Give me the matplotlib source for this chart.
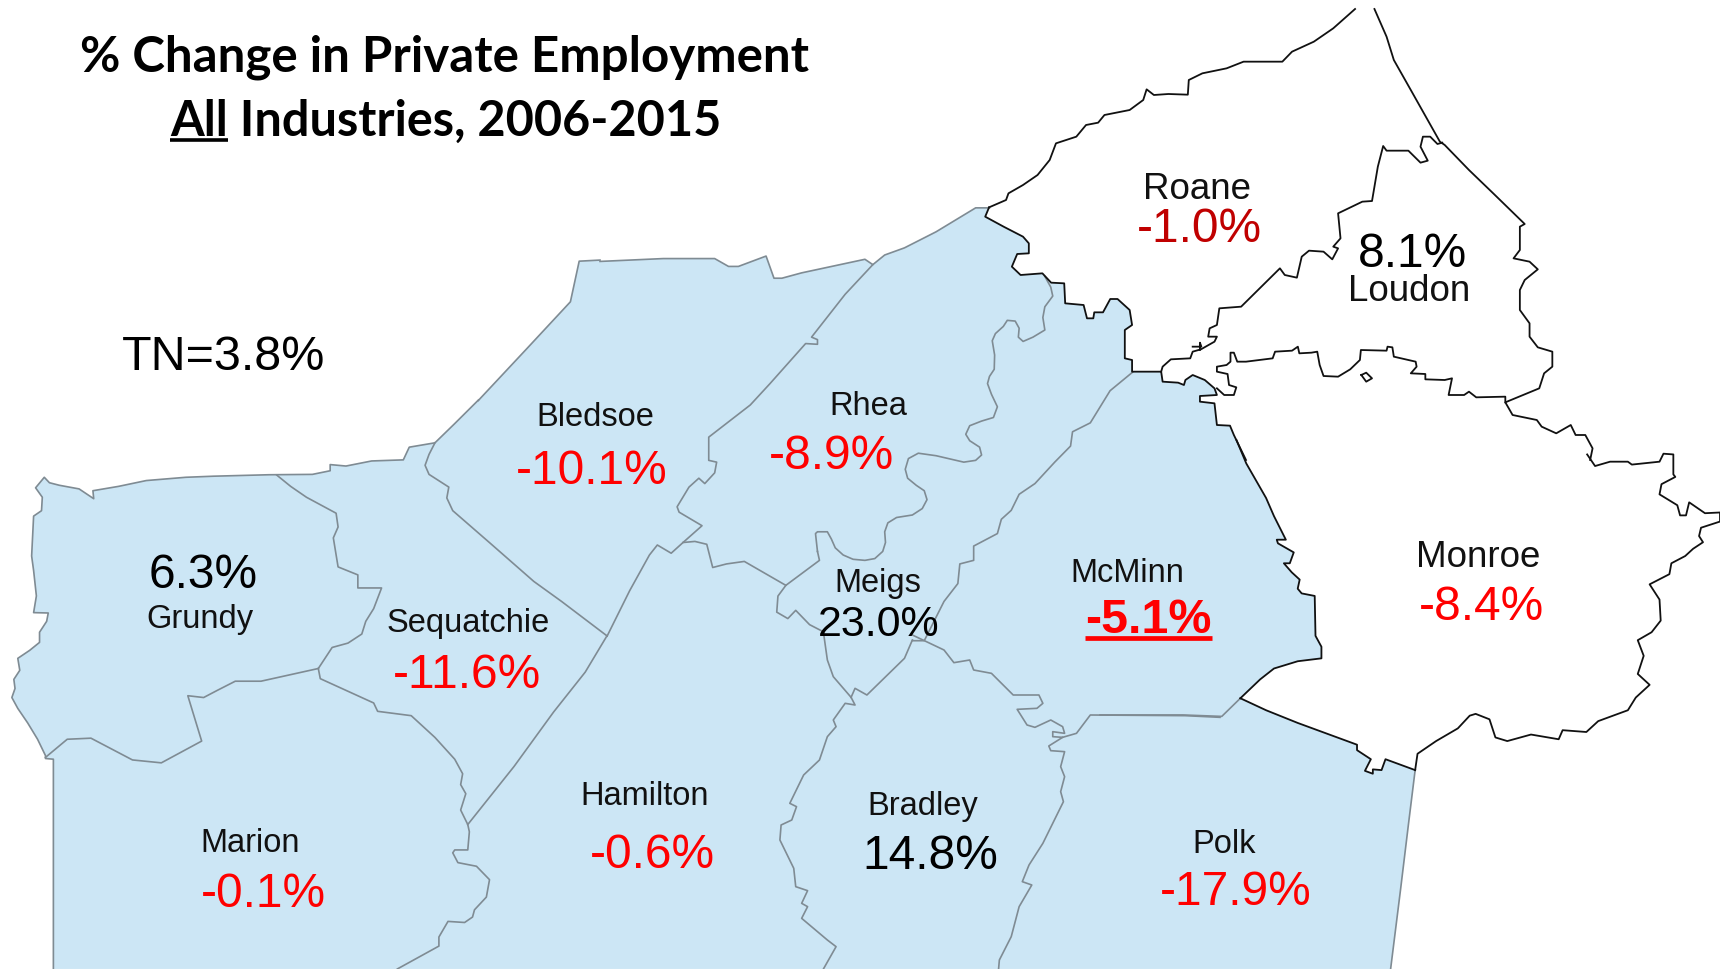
import matplotlib
matplotlib.use('Agg')
import matplotlib.pyplot as plt
from matplotlib.patches import Polygon

# scale of each crop the outlines were read from: left, top, x factor, y factor
crops = {
    'main': (0, 0, 1568 / 1720, 883 / 969),
    'sw': (0, 400, 2.529, 2.756),
    'mid': (600, 180, 2.529, 2.8),
    'ne': (960, 0, 2.063, 3.0),
    'se': (1100, 400, 2.529, 2.756),
    'south': (600, 620, 2.529, 3.0),
}


def px(crop, pts):
    left, top, kx, ky = crops[crop]
    return [(left + x / kx, top + y / ky) for x, y in pts]


# outer edge of the shaded counties
west_edge = [(135, 1568), (135, 990), (115, 988), (115, 980), (95, 935), (70, 890), (45, 850), (30, 820), (38, 795),
             (35, 770), (50, 745), (45, 712), (75, 690), (100, 668), (100, 640), (118, 610), (122, 587), (85, 586),
             (92, 540), (85, 470), (80, 430), (85, 320), (105, 305), (107, 268), (90, 242), (112, 213), (125, 228),
             (150, 235), (200, 245), (237, 272), (235, 250), (300, 238), (370, 222), (470, 213), (540, 210),
             (680, 206), (790, 205), (835, 195), (835, 178), (875, 182), (940, 168), (1020, 165), (1035, 130),
             (1100, 118), (1150, 65), (1210, 0)]
bledsoe_nw = [(436, 365), (480, 318), (520, 275), (528, 238), (547, 237)]
north_edge = [(0, 228), (160, 220), (290, 220), (325, 242), (350, 242), (420, 213), (440, 275), (460, 275), (510, 260),
              (670, 222), (690, 237), (720, 210), (770, 190), (850, 145), (950, 78), (985, 78)]
roane_blue = [(60, 622), (52, 650), (90, 680), (130, 710), (142, 730), (142, 760), (118, 762), (107, 800), (125, 825),
              (170, 820), (188, 848), (215, 850), (217, 910), (255, 915), (262, 955), (275, 955), (277, 937),
              (295, 937), (310, 897), (325, 897), (350, 930), (355, 975), (340, 990), (340, 1075), (355, 1080),
              (355, 1115), (415, 1115), (418, 1145), (450, 1148), (462, 1155), (465, 1140), (480, 1125), (505, 1140),
              (525, 1165), (530, 1185), (495, 1188), (495, 1205), (525, 1210), (530, 1275), (557, 1277), (565, 1305),
              (590, 1380)]
mcminn_east = [(345, 110), (370, 175), (420, 270), (440, 320), (470, 385), (447, 385), (450, 395), (490, 420),
               (480, 450), (465, 450), (485, 475), (505, 495), (500, 520), (510, 533), (543, 540), (545, 650),
               (560, 680), (560, 712), (500, 720), (440, 740), (405, 770), (355, 822)]
polk_north = [(355, 822), (420, 855), (500, 890), (650, 950), (650, 965), (685, 990), (670, 1022), (690, 1030),
              (690, 1018), (712, 1020), (722, 990), (797, 1020)]
polk_east = [(797, 1020), (780, 1170), (760, 1350), (735, 1568)]

# black lines round the white counties
roane_north = [(60, 622), (95, 600), (100, 580), (130, 555), (160, 525), (185, 480), (198, 430), (240, 410), (260, 375),
               (285, 368), (298, 345), (350, 330), (378, 300), (385, 268), (400, 285), (430, 282), (470, 284),
               (472, 240), (500, 220), (550, 205), (585, 185), (665, 185), (685, 155), (730, 125), (770, 85), (815, 27)]
loudon_east = [(855, 27), (880, 110), (895, 180), (930, 270), (990, 425), (1000, 435), (1050, 510), (1100, 580),
               (1165, 672), (1155, 680), (1155, 750), (1142, 775), (1175, 785), (1192, 808), (1165, 840), (1155, 870),
               (1155, 930), (1175, 970), (1175, 1010), (1192, 1042), (1222, 1055), (1222, 1100), (1205, 1120),
               (1195, 1165), (1125, 1207), (1140, 1245), (1190, 1260), (1200, 1280), (1230, 1300), (1260, 1275),
               (1270, 1305), (1290, 1305), (1305, 1345), (1300, 1380)]
monroe_east = [(1232, 150), (1252, 182), (1290, 170), (1335, 170), (1345, 178), (1415, 170), (1425, 148), (1450, 150),
               (1450, 205), (1455, 212), (1420, 232), (1415, 260), (1460, 290), (1467, 318), (1482, 318), (1490, 282),
               (1530, 312), (1568, 310), (1568, 335), (1520, 352), (1515, 375), (1525, 392), (1500, 410), (1480, 430),
               (1445, 450), (1440, 480), (1390, 508), (1415, 550), (1418, 608), (1395, 640), (1360, 662), (1375, 705),
               (1360, 755), (1390, 785), (1355, 820), (1335, 855), (1260, 885), (1230, 915), (1170, 910), (1160, 935),
               (1090, 922), (1030, 940), (1000, 930), (985, 880), (950, 865), (935, 870), (905, 905), (850, 940),
               (803, 975), (797, 1020)]
roane_loudon = [(415, 1115), (418, 1100), (435, 1078), (475, 1075), (480, 1055), (497, 1048), (525, 1025), (530, 1010),
                (512, 1010), (515, 985), (530, 975), (535, 925), (580, 920), (660, 805), (670, 825), (695, 833),
                (705, 770), (720, 752), (750, 755), (768, 778), (780, 745), (770, 740), (785, 715), (780, 640),
                (830, 605), (850, 603), (862, 500), (873, 438), (880, 452), (925, 452), (950, 488), (965, 482),
                (950, 440), (955, 410), (970, 410), (985, 432), (995, 428)]
loudon_monroe = [(530, 1165), (545, 1185), (565, 1185), (570, 1162), (555, 1155), (552, 1122), (530, 1115), (530, 1100),
                 (550, 1095), (558, 1085), (558, 1058), (565, 1058), (572, 1085), (590, 1085), (645, 1075), (650, 1055),
                 (685, 1052), (697, 1040), (700, 1060), (725, 1058), (737, 1055), (742, 1095), (750, 1128), (780, 1130),
                 (805, 1108), (825, 1080), (827, 1050), (880, 1052), (882, 1040), (892, 1042), (895, 1070), (940, 1085),
                 (942, 1100), (930, 1120), (960, 1122), (960, 1138), (1000, 1140), (1015, 1135), (1008, 1185),
                 (1040, 1185), (1050, 1175), (1065, 1192), (1125, 1190), (1125, 1207)]
river_island = [(828, 1125), (838, 1118), (850, 1135), (838, 1145), (828, 1125)]
river_cross = [(480, 1040), (498, 1040), (495, 1028), (495, 1050)]

# grey lines between the shaded counties
grundy_sequatchie = [(700, 207), (735, 238), (775, 268), (850, 312), (855, 350), (843, 380), (855, 460), (905, 482),
                     (905, 518), (965, 518), (945, 575), (925, 610), (915, 645), (880, 670), (840, 682), (805, 740)]
grundy_marion = [(115, 985), (170, 935), (230, 932), (335, 992), (408, 1000), (510, 940), (475, 815), (515, 820),
                 (550, 800), (595, 775), (660, 775), (805, 740)]
marion_east = [(805, 740), (810, 768), (945, 835), (955, 858), (1040, 870), (1100, 930), (1150, 990), (1170, 1030),
               (1165, 1060), (1178, 1085), (1165, 1130), (1183, 1170), (1187, 1190), (1183, 1240), (1150, 1240),
               (1145, 1248), (1158, 1275), (1205, 1285), (1238, 1322), (1230, 1370), (1200, 1405), (1195, 1425),
               (1175, 1440), (1133, 1437), (1110, 1480), (1110, 1505), (1060, 1535), (1005, 1568)]
bledsoe_sequatchie = [(1100, 118), (1085, 150), (1075, 180), (1085, 205), (1135, 240), (1130, 270), (1145, 305),
                      (1240, 395), (1350, 500), (1420, 555), (1535, 650)]
sequatchie_hamilton = [(1535, 650), (1480, 750), (1400, 860), (1300, 1010), (1183, 1170)]
rhea_west = [(18, 1277), (75, 1150), (125, 1050), (145, 1022), (180, 1045), (210, 1015), (258, 968),
             (200, 930), (195, 915), (225, 860), (250, 835), (265, 850), (290, 820), (295, 790), (275, 785), (275, 720),
             (380, 630), (430, 570), (520, 458), (550, 460), (550, 447), (535, 440), (620, 320), (690, 237)]
rhea_south = [(210, 1015), (240, 1012), (270, 1020), (285, 1085), (320, 1075), (365, 1068), (470, 1135), (555, 1065),
              (550, 1040)]
rhea_river = [(550, 1040), (545, 990), (550, 985), (575, 985), (585, 1005), (595, 1030), (615, 1050), (640, 1062),
              (670, 1065), (695, 1060), (715, 1040), (722, 1015), (720, 985), (728, 960), (750, 945), (790, 938),
              (815, 920), (827, 895), (820, 870), (800, 855), (778, 835), (772, 810), (780, 780), (805, 765),
              (850, 772), (920, 790), (950, 785), (965, 770), (960, 748), (935, 730), (925, 712), (935, 688),
              (965, 675), (995, 665), (1005, 635), (990, 600), (980, 570), (985, 550), (997, 530), (998, 490),
              (992, 450), (1000, 430), (1020, 410), (1030, 393), (1050, 395), (1060, 415), (1058, 440), (1070, 452),
              (1095, 440), (1125, 420), (1120, 385), (1125, 355), (1145, 325), (1140, 300), (1125, 270)]
meigs_hamilton = [(470, 1135), (450, 1165), (447, 1210), (475, 1228), (495, 1205), (530, 1245), (565, 1265)]
meigs_south = [(565, 36), (575, 120), (590, 170), (635, 232)]
meigs_bradley = [(790, 60), (770, 115), (675, 225), (645, 205), (635, 232)]
meigs_mcminn = [(1347, 538), (1290, 590), (1240, 680), (1195, 705), (1190, 745), (1150, 790), (1100, 850), (1060, 880),
                (1040, 925), (1015, 950), (1005, 990), (945, 1025), (945, 1065), (910, 1075), (905, 1130), (870, 1180),
                (820, 1290), (790, 1290)]
mcminn_bradley = [(790, 45), (870, 90), (895, 128), (935, 120), (945, 150), (990, 160), (1045, 225), (1110, 225),
                  (1120, 250), (1105, 265), (1055, 268), (1080, 315), (1100, 322), (1140, 300), (1170, 320), (1175, 340),
                  (1145, 335), (1145, 350), (1170, 352), (1205, 340), (1240, 285), (1480, 287), (1568, 292)]
mcminn_polk = [(0, 868), (210, 868), (308, 872), (355, 822)]
bradley_polk = [(1170, 352), (1135, 378), (1140, 392), (1175, 395), (1165, 440), (1175, 470), (1165, 515), (1172, 545),
                (1120, 670), (1085, 735), (1068, 785), (1092, 795), (1060, 860), (1040, 950), (1010, 1020), (1008, 1047)]
hamilton_bradley = [(635, 232), (645, 255), (620, 250), (590, 300), (597, 320), (575, 350), (555, 420), (515, 465),
                    (480, 550), (497, 560), (485, 600), (458, 615), (455, 660), (490, 745), (495, 800), (525, 812),
                    (510, 850), (525, 860), (510, 895), (575, 960), (597, 980), (565, 1047)]

# county names and values
county_names = ['Roane', 'Loudon', 'Monroe', 'Bledsoe', 'Rhea', 'Meigs', 'McMinn', 'Grundy', 'Sequatchie', 'Marion',
                'Hamilton', 'Bradley', 'Polk']
county_values = [-1.0, 8.1, -8.4, -10.1, -8.9, 23.0, -5.1, 6.3, -11.6, -0.1, -0.6, 14.8, -17.9]
state_label = 'TN=3.8%'
title_lines = ['% Change in Private Employment', 'All', ' Industries, 2006-2015']

# where the labels sit, in the shrunk picture
name_xy = [(1091, 173), (1285, 266), (1348, 508), (543, 381), (792, 371), (800, 532), (1028, 523), (182, 565),
           (427, 568), (228, 769), (588, 726), (841, 735), (1116, 770)]
value_xy = [(1093, 209), (1288, 232), (1351, 554), (539, 430), (758, 416), (801, 570), (1047, 566), (185, 525),
            (426, 616), (240, 815), (595, 780), (848, 781), (1127, 814)]
name_sizes = [26.5, 26.5, 26.5, 23.5, 23.5, 23.5, 23.5, 23.5, 23.5, 23.5, 23.5, 23.5, 23.5]
value_sizes = [34.5, 34.5, 34.5, 34.5, 34.5, 31, 34.8, 34.5, 34.5, 34.5, 34.5, 34.5, 34.5]

blue = '#CCE6F5'
grey = '#7F8B93'

fig = plt.figure(figsize=(17.2, 9.69), dpi=100)
ax = fig.add_axes([0, 0, 1, 1])
ax.set_xlim(0, 1720)
ax.set_ylim(969, 0)
ax.axis('off')

shaded = (px('sw', west_edge) + px('main', bledsoe_nw) + px('mid', north_edge) + px('ne', roane_blue)
          + px('se', mcminn_east) + px('se', polk_north) + px('se', polk_east))
ax.add_patch(Polygon(shaded, closed=True, fc=blue, ec='none'))

grey_lines = [px('sw', west_edge), px('main', bledsoe_nw), px('mid', north_edge), px('se', polk_east),
              px('sw', grundy_sequatchie), px('sw', grundy_marion), px('sw', marion_east),
              px('sw', bledsoe_sequatchie), px('sw', sequatchie_hamilton),
              px('mid', rhea_west), px('mid', rhea_south), px('mid', rhea_river), px('mid', meigs_hamilton),
              px('south', meigs_south), px('south', meigs_bradley), px('mid', meigs_mcminn),
              px('south', mcminn_bradley), px('se', mcminn_polk), px('south', bradley_polk),
              px('south', hamilton_bradley)]
for line in grey_lines:
    ax.plot(*zip(*line), color=grey, lw=1.2, solid_joinstyle='round')

black_lines = [px('ne', roane_blue), px('se', mcminn_east), px('se', polk_north), px('ne', roane_north),
               px('ne', loudon_east), px('se', monroe_east), px('ne', roane_loudon), px('ne', loudon_monroe),
               px('ne', river_island), px('ne', river_cross)]
for line in black_lines:
    ax.plot(*zip(*line), color='#111111', lw=1.3, solid_joinstyle='round')

scale = 1720 / 1568
sans = 'Liberation Sans'
for name, size, (x, y) in zip(county_names, name_sizes, name_xy):
    ax.text(x * scale, y * scale, name, family=sans, fontsize=size, color='#111111', ha='center', va='center')

for name, val, size, (x, y) in zip(county_names, county_values, value_sizes, value_xy):
    color = 'black' if val > 0 else 'red'
    if name == 'Roane':
        color = '#C00000'
    weight = 'bold' if name == 'McMinn' else 'normal'
    t = ax.text(x * scale, y * scale, f'{val:.1f}%', family=sans, fontsize=size, color=color, weight=weight,
                ha='center', va='center')
    if name == 'McMinn':
        box = t.get_window_extent(fig.canvas.get_renderer())
        ax.plot([box.x0, box.x1], [638, 638], color='red', lw=3.4, solid_capstyle='butt')

ax.text(204 * scale, 326 * scale, state_label, family=sans, fontsize=34.8, color='black', ha='center', va='center')

# title, second line is split so only the first word gets underlined
ax.text(405 * scale, 52 * scale, title_lines[0], family='Lato', weight='bold', fontsize=35.5, ha='center', va='center')
a = ax.text(155 * scale, 111 * scale, title_lines[1], family='Lato', weight='bold', fontsize=35, ha='left', va='center')
box = a.get_window_extent(fig.canvas.get_renderer())
ax.plot([155 * scale, 208 * scale], [128 * scale, 128 * scale], color='black', lw=2.6, solid_capstyle='butt')
ax.text(box.x1, 111 * scale, title_lines[2], family='Lato', weight='bold', fontsize=35, ha='left', va='center')

fig.savefig('out.png', dpi=100)
